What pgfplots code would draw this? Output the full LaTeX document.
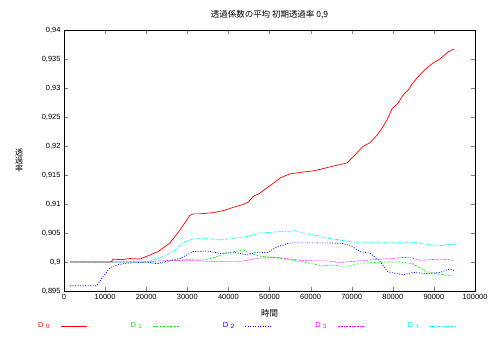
\documentclass[border=0pt]{standalone}
\usepackage{fontspec}
\setmainfont{Liberation Sans}
\newfontfamily\jp{Noto Sans CJK JP}
\usepackage{pgfplots}
\pgfplotsset{compat=1.18}
\definecolor{cR}{RGB}{255,0,0}
\definecolor{cG}{RGB}{0,240,0}
\definecolor{cB}{RGB}{0,0,255}
\definecolor{cM}{RGB}{255,0,255}
\definecolor{cC}{RGB}{0,255,255}
\newcommand{\legD}[2]{\textcolor{#1}{D\hspace{2.5bp}\raisebox{-1bp}{\fontsize{6}{7}\selectfont #2}}}
\begin{document}
\begin{tikzpicture}
\path[use as bounding box] (-64bp,-48bp) rectangle (424bp,291bp);
\begin{axis}[
  at={(0,0)}, anchor=south west,
  scale only axis, width=411bp, height=261bp,
  xmin=0, xmax=100000, ymin=0.895, ymax=0.94,
  xtick={0,10000,20000,30000,40000,50000,60000,70000,80000,90000,100000},
  ytick={0.895,0.9,0.905,0.91,0.915,0.92,0.925,0.93,0.935,0.94},
  tick align=inside, tick pos=both, major tick length=4bp,
  axis line style={line width=0.8bp},
  scaled ticks=false,
  /pgf/number format/assume math mode=true,
  xticklabel style={/pgf/number format/.cd, fixed, 1000 sep={}},
  yticklabel style={/pgf/number format/.cd, fixed, precision=3, use comma},
  tick label style={font=\fontsize{7.5}{9}\selectfont},
  every axis title/.style={at={(axis description cs:0.5,1.0575)}, anchor=center, font=\jp\fontsize{8.5}{10}\selectfont},
  title={透過係数の平均 初期透過率 0,9},
  every axis x label/.style={at={(axis description cs:0.5,-0.084)}, anchor=center, font=\jp\fontsize{8.5}{10}\selectfont},
  xlabel={時間},
  legend columns=5,
  legend plot pos=right,
  legend image code/.code={\draw[#1] (0bp,0bp) -- (26bp,0bp);},
  legend style={at={(axis description cs:-0.0633,-0.1341)}, anchor=west,
    draw=none, fill=none, inner sep=0pt,
    font=\fontsize{7.5}{9}\selectfont,
    nodes={inner sep=0pt, text width=14bp, align=left},
    /tikz/every odd column/.append style={column sep=8bp},
    /tikz/every even column/.append style={column sep=43.7bp}},
]
\addplot[cR, line width=0.7bp] coordinates {
(1500,0.9) (11500,0.9) (11900,0.9005) (14000,0.9004) (16000,0.9006) (18500,0.9005)
(20200,0.901) (22900,0.9018) (25800,0.9033) (28200,0.9055) (30600,0.9080)
(31400,0.9083) (33000,0.9083) (36300,0.9085) (39000,0.9089) (41100,0.9094)
(43500,0.9099) (44800,0.9103) (46000,0.9113) (47500,0.9118) (49400,0.9128)
(51000,0.9136) (52600,0.9145) (55000,0.9152) (58000,0.9155) (60600,0.9157)
(62500,0.9160) (64700,0.9164) (66500,0.9167) (68900,0.9171) (70300,0.9181)
(72700,0.9199) (74500,0.9206) (76200,0.9219) (77500,0.9232) (78600,0.9245)
(79800,0.9264) (81300,0.9274) (82500,0.9288) (83800,0.9297) (84900,0.9309)
(86000,0.9318) (87300,0.9328) (88500,0.9336) (89800,0.9343) (91500,0.9350)
(93400,0.9362) (94900,0.9367)
};
\addlegendentry{\legD{cR}{0}}
\addplot[cG, line width=0.6bp, dash pattern=on 2bp off 1.5bp] coordinates {
(1500,0.9) (20000,0.9) (21500,0.8998) (24000,0.8998) (25800,0.9002) (31400,0.9005)
(34800,0.9005) (36300,0.9007) (39700,0.9016) (41500,0.9018) (43600,0.9021)
(45300,0.9015) (47700,0.9010) (50900,0.9008) (53500,0.9005) (55700,0.9003)
(58200,0.9000) (61000,0.8996) (63000,0.8993) (65000,0.8995) (67200,0.8993)
(69600,0.8993) (72000,0.8998) (75000,0.8999) (78600,0.9000) (81800,0.9000)
(84900,0.8997) (86500,0.8990) (88300,0.8983) (91500,0.8979) (94700,0.8976)
};
\addlegendentry{\legD{cG}{1}}
\addplot[cB, line width=0.7bp, dash pattern=on 1bp off 1.5bp] coordinates {
(1500,0.8959) (8000,0.8959) (9500,0.8975) (11200,0.8990) (12900,0.8995)
(15300,0.8998) (20200,0.9000) (22600,0.8997) (25100,0.9002) (28200,0.9006)
(29900,0.9012) (31400,0.9018) (34800,0.9019) (38000,0.9015) (42100,0.9016)
(44500,0.9012) (47000,0.9017) (49400,0.9016) (51800,0.9026) (55000,0.9033)
(61500,0.9033) (64000,0.9033) (67900,0.9032) (70300,0.9026) (72000,0.9018)
(74500,0.9015) (76900,0.9001) (78800,0.8983) (82500,0.8978) (84900,0.8982)
(88300,0.8980) (91500,0.8982) (93900,0.8988) (95000,0.8985)
};
\addlegendentry{\legD{cB}{2}}
\addplot[cM, line width=0.6bp, dash pattern=on 0.8bp off 0.8bp] coordinates {
(1500,0.9) (20000,0.9) (23400,0.9002) (31400,0.9003) (35500,0.9001) (42800,0.9001)
(47700,0.9007) (51800,0.9008) (54000,0.9006) (57400,0.9003) (61000,0.9002)
(64000,0.9002) (67200,0.8999) (70000,0.9001) (72000,0.9002) (76900,0.9005)
(80000,0.9006) (82500,0.9008) (84500,0.9007) (86600,0.9003) (89000,0.9004)
(91500,0.9005) (95000,0.9003)
};
\addlegendentry{\legD{cM}{3}}
\addplot[cC, line width=0.7bp, dash pattern=on 3bp off 1.5bp on 1bp off 1.5bp] coordinates {
(1500,0.9) (19200,0.9) (21000,0.9002) (23400,0.9007) (26600,0.9018) (29000,0.9033)
(31400,0.9040) (35500,0.9040) (38000,0.9038) (41100,0.9041) (44500,0.9044)
(47700,0.9050) (51800,0.9052) (53300,0.9052) (56200,0.9054) (58000,0.9050)
(59800,0.9048) (62000,0.9045) (64000,0.9041) (67000,0.9038) (70300,0.9034)
(75000,0.9034) (80000,0.9034) (84900,0.9034) (88000,0.9031) (91500,0.9028)
(93000,0.9030) (95100,0.9030)
};
\addlegendentry{\legD{cC}{4}}
\end{axis}
\node[anchor=center, align=center, inner sep=0pt, font=\jp\fontsize{8}{8}\selectfont]
  at (-45bp,130.5bp) {透\\過\\率};
\end{tikzpicture}
\end{document}
